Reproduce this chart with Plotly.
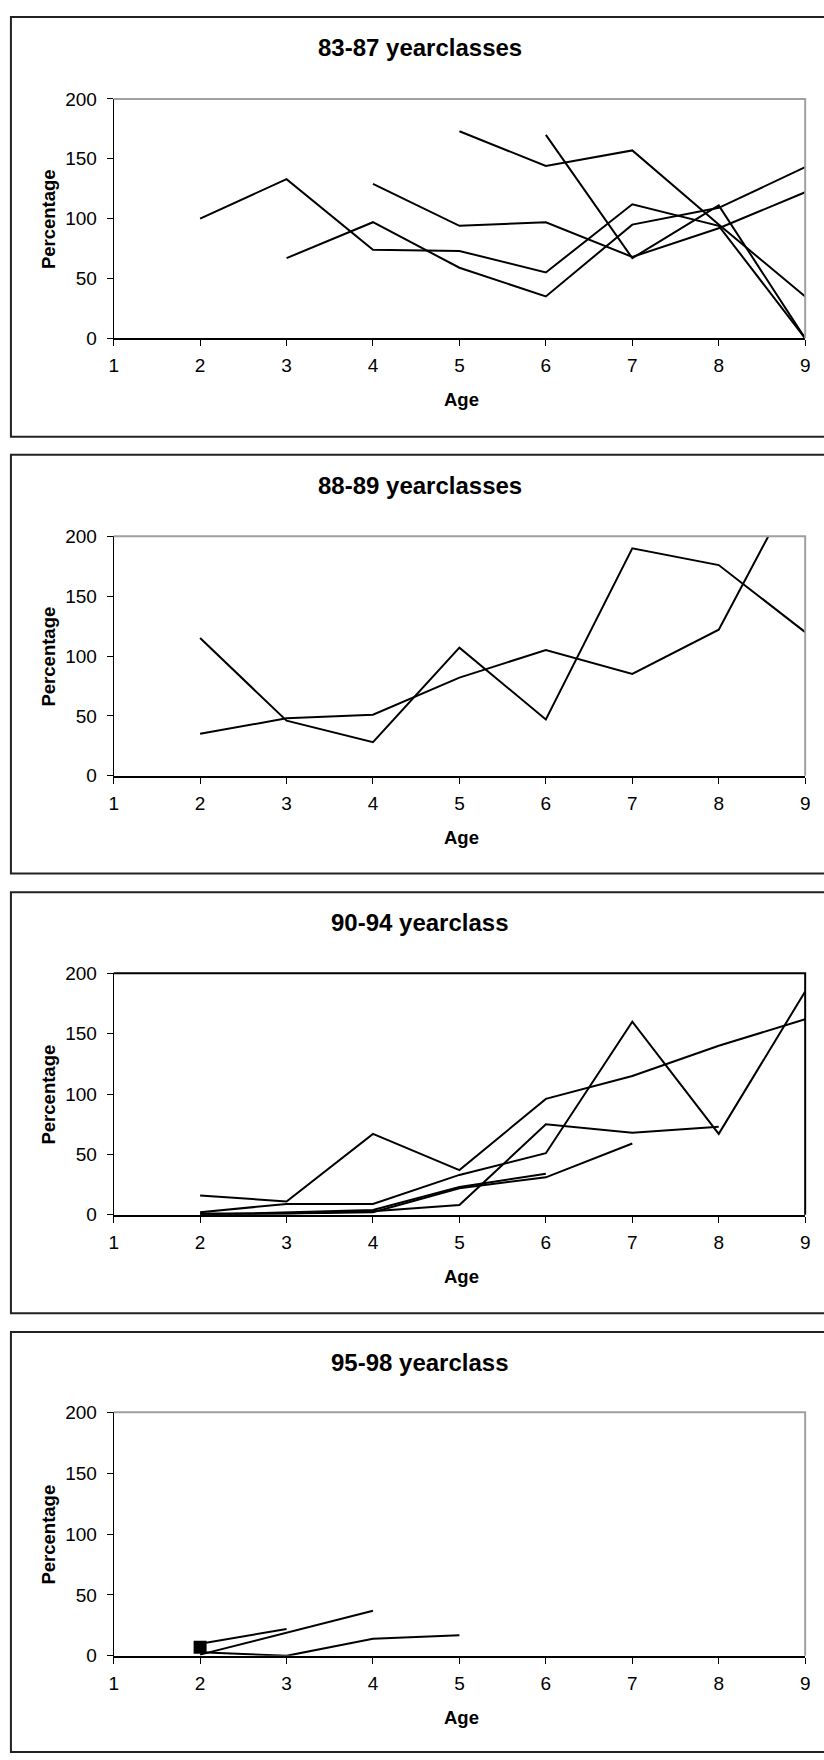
import plotly.graph_objects as go

# Ages on the x axis and the tick values on both axes
AGE = [2, 3, 4, 5, 6, 7, 8, 9]
X_TICKS = [1, 2, 3, 4, 5, 6, 7, 8, 9]
Y_TICKS = [0, 50, 100, 150, 200]

# Percentage by age, one list per year class (None = not observed)
# 83-87 yearclasses
yc83 = [None, None, None, None, 170, 67, 111, 0]
yc84 = [None, None, None, 173, 144, 157, 95, 35]
yc85 = [None, None, 129, 94, 97, 68, 92, 122]
yc86 = [None, 67, 97, 59, 35, 95, 109, 143]
yc87 = [100, 133, 74, 73, 55, 112, 94, 0]

# 88-89 yearclasses
yc88 = [115, 46, 28, 107, 47, 190, 176, 120]
yc89 = [35, 48, 51, 82, 105, 85, 122, 258]

# 90-94 yearclass
yc90 = [16, 11, 67, 37, 96, 115, 140, 162]
yc91 = [2, 9, 9, 33, 51, 160, 67, 185]
yc92 = [1, 1, 3, 8, 75, 68, 73, None]
yc93 = [0, 1, 2, 22, 31, 59, None, None]
yc94 = [0, 2, 4, 23, 34, None, None, None]

# 95-98 yearclass
yc95 = [3, 0, 14, 17, None, None, None, None]
yc96 = [1, 19, 37, None, None, None, None, None]
yc97 = [10, 22, None, None, None, None, None, None]
yc98 = [7, None, None, None, None, None, None, None]

PANEL_TITLES = ["83-87 yearclasses", "88-89 yearclasses", "90-94 yearclass", "95-98 yearclass"]
PANEL_SERIES = [
    [yc83, yc84, yc85, yc86, yc87],
    [yc88, yc89],
    [yc90, yc91, yc92, yc93, yc94],
    [yc95, yc96, yc97, yc98],
]

W, H = 824, 1760
FONT = "Liberation Sans, Arial, sans-serif"

# Page layout in pixels: outer chart frames and inner plot areas
FRAMES = [(7, 432), (450, 874), (893, 1319), (1338, 1763)]
PLOTS = [(90, 332.3), (532.7, 775), (975, 1219.3), (1419.3, 1665.7)]
PLOT_LEFT, PLOT_RIGHT = 110, 810
BORDER_COLORS = ["#a0a0a0", "#a0a0a0", "#000000", "#a0a0a0"]


def px(xp):
    return xp / W


def py(yp):
    return 1 - yp / H


fig = go.Figure()
annotations = []
shapes = []

for i, (title, series) in enumerate(zip(PANEL_TITLES, PANEL_SERIES)):
    n = i + 1
    xa = "x" if n == 1 else f"x{n}"
    ya = "y" if n == 1 else f"y{n}"
    top, bottom = PLOTS[i]
    ftop, fbottom = FRAMES[i]

    for s in series:
        single = sum(v is not None for v in s) == 1
        fig.add_trace(go.Scatter(
            x=AGE, y=s, xaxis=xa, yaxis=ya,
            mode="markers" if single else "lines",
            line=dict(color="black", width=2),
            marker=dict(symbol="square", size=13, color="black"),
            connectgaps=False, hoverinfo="skip", showlegend=False,
        ))

    dom_x = [px(PLOT_LEFT), px(PLOT_RIGHT)]
    dom_y = [py(bottom), py(top)]

    fig.layout[f"xaxis{'' if n == 1 else n}"] = dict(
        domain=dom_x, anchor=ya, range=[1, 9], tickvals=X_TICKS,
        ticks="outside", ticklen=6, tickwidth=1, tickcolor="black",
        showline=True, linecolor="black", linewidth=2,
        showgrid=False, zeroline=False,
        tickfont=dict(family=FONT, size=19, color="black"),
        ticklabelstandoff=3,
    )
    fig.layout[f"yaxis{'' if n == 1 else n}"] = dict(
        domain=dom_y, anchor=xa, range=[0, 200], tickvals=Y_TICKS,
        ticks="outside", ticklen=6, tickwidth=1, tickcolor="black",
        showline=True, linecolor="black", linewidth=1,
        showgrid=False, zeroline=False,
        tickfont=dict(family=FONT, size=19, color="black"),
        ticklabelstandoff=6,
    )
    # companion axis drawing the upper half of the crossing x ticks
    fig.layout[f"xaxis{n + 4}"] = dict(
        domain=dom_x, anchor=ya, overlaying=xa, range=[1, 9], tickvals=X_TICKS,
        ticks="inside", ticklen=5, tickwidth=1, tickcolor="black",
        showticklabels=False, showline=False, showgrid=False, zeroline=False,
    )

    # plot-area border along the top and right edges
    shapes.append(dict(
        type="path", xref=f"{xa} domain", yref=f"{ya} domain",
        path="M 0 1 L 1 1 L 1 0",
        line=dict(color=BORDER_COLORS[i], width=2), layer="above",
    ))
    # outer chart frame
    shapes.append(dict(
        type="rect", xref="paper", yref="paper",
        x0=px(6), x1=px(836), y0=py(fbottom), y1=py(ftop),
        line=dict(color="#222222", width=2), fillcolor="rgba(0,0,0,0)",
    ))

    annotations.append(dict(
        text=f"<b>{title}</b>", xref="paper", yref="paper",
        x=px(420), y=py(ftop + 31), xanchor="center", yanchor="middle",
        showarrow=False, font=dict(family=FONT, size=24, color="black"),
    ))
    annotations.append(dict(
        text="<b>Age</b>", xref="paper", yref="paper",
        x=px(462), y=py(bottom + 62), xanchor="center", yanchor="middle",
        showarrow=False, font=dict(family=FONT, size=18.5, color="black"),
    ))
    annotations.append(dict(
        text="<b>Percentage</b>", xref="paper", yref="paper",
        x=px(44), y=py((top + bottom) / 2), xanchor="center", yanchor="middle",
        textangle=-90, showarrow=False, font=dict(family=FONT, size=18.5, color="black"),
    ))

fig.update_layout(
    width=W, height=H,
    margin=dict(l=0, r=0, t=0, b=0),
    paper_bgcolor="white", plot_bgcolor="white",
    showlegend=False,
    font=dict(family=FONT, size=18, color="black"),
    annotations=annotations, shapes=shapes,
)

fig.write_html("out.html")
